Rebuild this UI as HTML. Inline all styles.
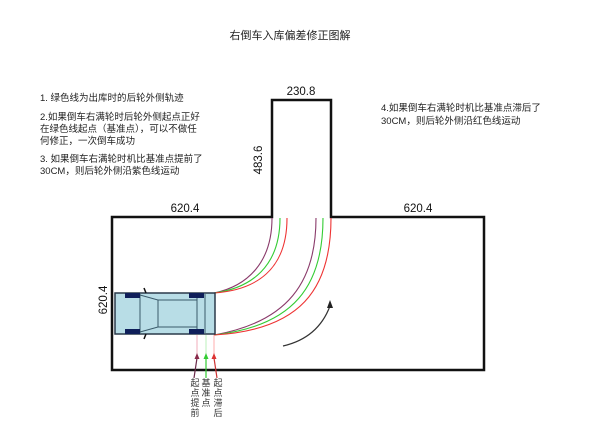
<!DOCTYPE html>
<html><head><meta charset="utf-8"><style>
body{margin:0;background:#fff;}
svg{display:block;font-family:"Liberation Sans","Noto Sans CJK SC",sans-serif;}
</style></head><body>
<svg width="600" height="425" viewBox="0 0 600 425">
<text x="290" y="39" font-size="11" text-anchor="middle" fill="#222">右倒车入库偏差修正图解</text>
<g font-size="9.5" fill="#222">
<text x="40" y="101">1. 绿色线为出库时的后轮外侧轨迹</text>
<text x="40" y="120">2.如果倒车右满轮时后轮外侧起点正好</text>
<text x="40" y="132">在绿色线起点（基准点），可以不做任</text>
<text x="40" y="144">何修正，一次倒车成功</text>
<text x="40" y="162">3. 如果倒车右满轮时机比基准点提前了</text>
<text x="40" y="174">30CM，则后轮外侧沿紫色线运动</text>
<text x="381" y="111">4.如果倒车右满轮时机比基准点滞后了</text>
<text x="381" y="124">30CM，则后轮外侧沿红色线运动</text>
</g>
<g font-size="11.5" fill="#111">
<text x="301" y="95" text-anchor="middle">230.8</text>
<text x="185" y="212" text-anchor="middle">620.4</text>
<text x="418" y="212" text-anchor="middle">620.4</text>
<text transform="translate(262,160) rotate(-90)" text-anchor="middle">483.6</text>
<text transform="translate(107,300) rotate(-90)" text-anchor="middle">620.4</text>
</g>
<path d="M112,217 L112,370 L484,370 L484,217 L331,217 L331,100 L272,100 L272,217 Z" fill="none" stroke="#111" stroke-width="2.5"/>
<g fill="none" stroke-width="1.1">
<path d="M214,293 C248,286 272,262 272,218" stroke="#8a3a6a"/>
<path d="M214,293 C252,288 280,266 280,218" stroke="#3c3"/>
<path d="M214,293 C256,290 287,270 287,218" stroke="#e33"/>
<path d="M214,335 C288,322 316,282 316,218" stroke="#8a3a6a"/>
<path d="M214,335 C294,326 323,286 323,218" stroke="#3c3"/>
<path d="M214,335 C300,330 331,290 331,218" stroke="#e33"/>
</g>
<path d="M283,346 Q318,338 330,306" fill="none" stroke="#333" stroke-width="1.2"/>
<path d="M330,300 L327,308 L333,308 Z" fill="#222"/>
<rect x="115" y="293" width="100" height="41" fill="#b8dde6" stroke="#2a3a4a" stroke-width="1.5"/>
<g stroke="#3a5a6a" stroke-width="1" fill="none">
<line x1="140" y1="294" x2="140" y2="333"/>
<path d="M140,295 L158,300 L158,327 L140,332"/>
<line x1="158" y1="300" x2="197" y2="300"/>
<line x1="158" y1="327" x2="197" y2="327"/>
<line x1="197" y1="294" x2="197" y2="333"/>
<line x1="205" y1="294" x2="205" y2="333"/>
</g>
<g fill="#0f1f5a">
<rect x="125" y="293" width="15" height="5"/><rect x="125" y="329" width="15" height="5"/>
<rect x="189" y="293" width="15" height="5"/><rect x="189" y="329" width="15" height="5"/>
</g>
<line x1="144" y1="288" x2="146" y2="293" stroke="#111" stroke-width="1.5"/>
<line x1="144" y1="339" x2="146" y2="334" stroke="#111" stroke-width="1.5"/>
<g stroke-width="0.8">
<line x1="197" y1="335" x2="197" y2="355" stroke="#e9a"/>
<line x1="206" y1="335" x2="206" y2="355" stroke="#aea"/>
<line x1="214" y1="335" x2="214" y2="355" stroke="#f99"/>
</g>
<g stroke-width="1.2">
<line x1="194" y1="378" x2="197" y2="358" stroke="#6a2a4a"/>
<line x1="206" y1="378" x2="206" y2="358" stroke="#3c3"/>
<line x1="217" y1="378" x2="214" y2="358" stroke="#c33"/>
</g>
<path d="M197,353 L194.5,359 L199.5,359Z" fill="#8a2a4a"/>
<path d="M206,353 L203.5,359 L208.5,359Z" fill="#3c3"/>
<path d="M214,353 L211.5,359 L216.5,359Z" fill="#d33"/>
<g font-size="9" fill="#333" text-anchor="middle">
<text x="195" y="386">起</text><text x="195" y="396">点</text><text x="195" y="406">提</text><text x="195" y="416">前</text>
<text x="206" y="386">基</text><text x="206" y="396">准</text><text x="206" y="406">点</text>
<text x="218" y="386">起</text><text x="218" y="396">点</text><text x="218" y="406">滞</text><text x="218" y="416">后</text>
</g>
</svg>
</body></html>
